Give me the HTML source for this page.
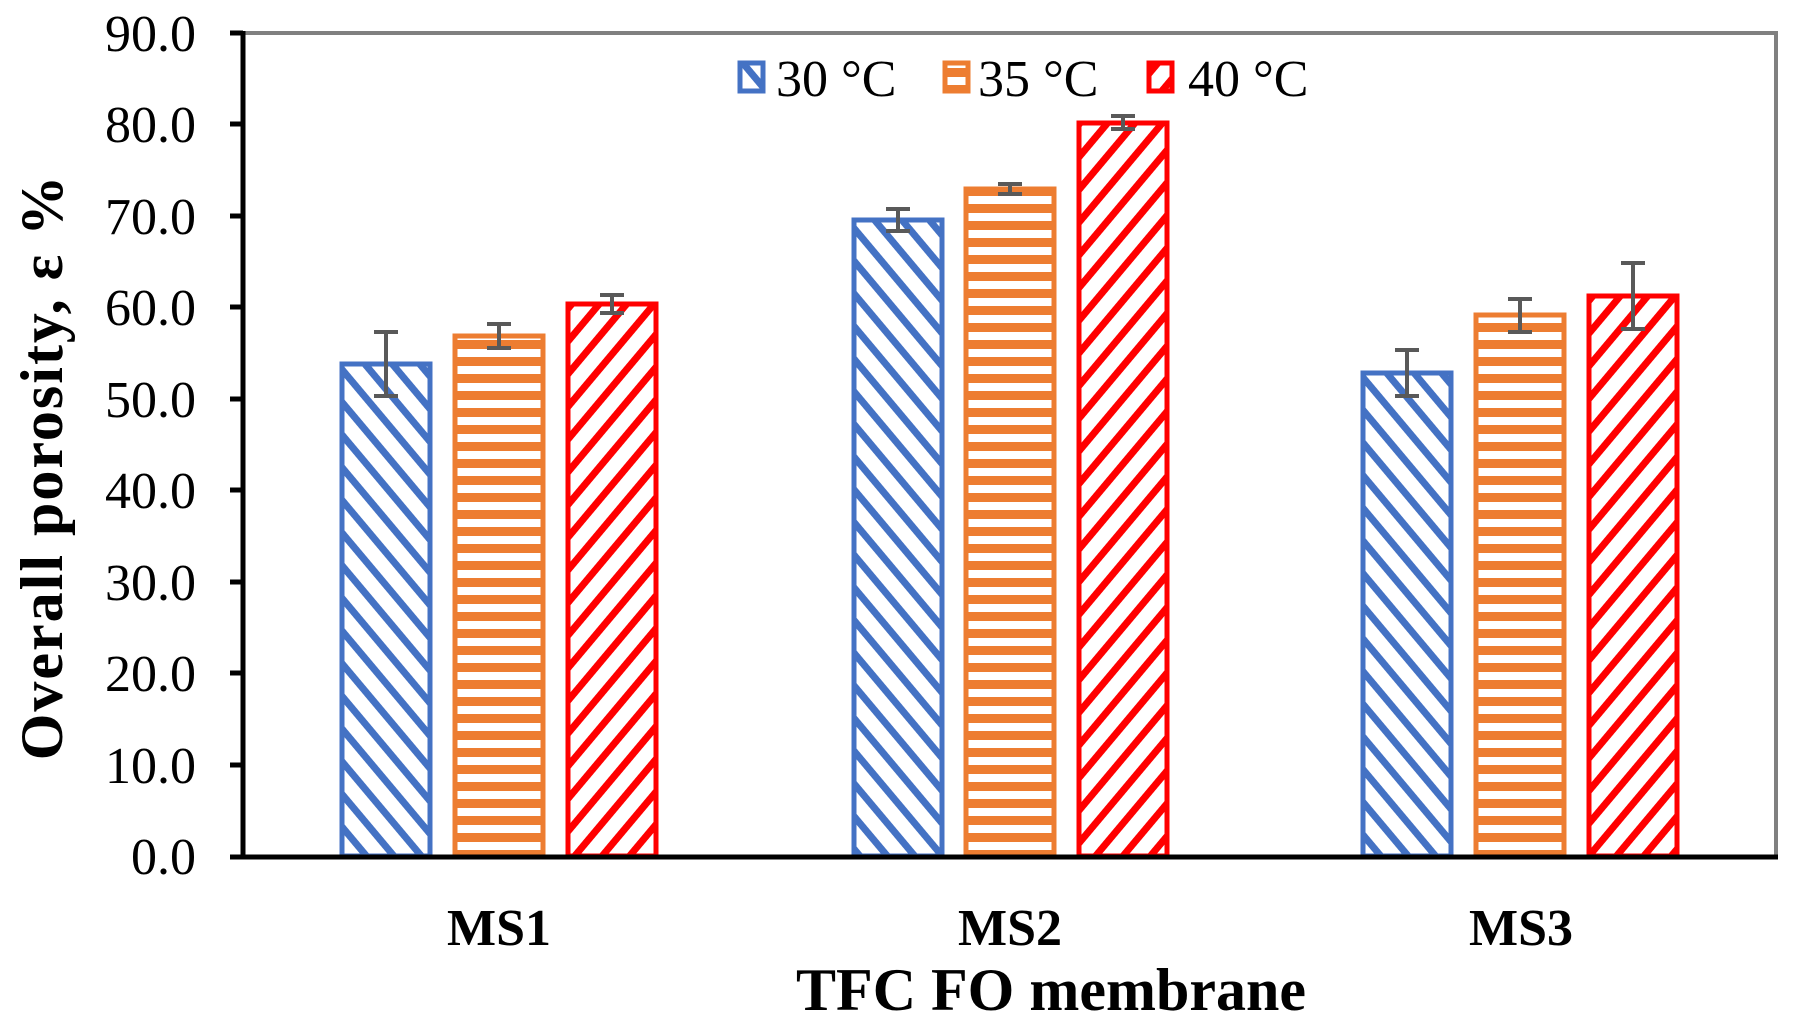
<!DOCTYPE html>
<html><head><meta charset="utf-8"><style>body{margin:0;background:#fff}svg{display:block}</style></head>
<body>
<svg width="1795" height="1031" viewBox="0 0 1795 1031" xmlns="http://www.w3.org/2000/svg" font-family="'Liberation Serif', serif">
<defs>
<pattern id="pb" patternUnits="userSpaceOnUse" width="21" height="21" patternTransform="rotate(-40)">
<rect width="21" height="21" fill="#fff"/><rect x="0" y="0" width="7" height="21" fill="#4472C4"/></pattern>
<pattern id="po" patternUnits="userSpaceOnUse" width="20" height="17">
<rect width="20" height="17" fill="#fff"/><rect x="0" y="0" width="20" height="9" fill="#ED7D31"/></pattern>
<pattern id="pr" patternUnits="userSpaceOnUse" width="21" height="21" patternTransform="rotate(40)">
<rect width="21" height="21" fill="#fff"/><rect x="0" y="0" width="7" height="21" fill="#FF0000"/></pattern>
</defs>
<rect x="243" y="33" width="1533" height="824" fill="none" stroke="#808080" stroke-width="4"/>
<g stroke-width="5">
<rect x="342" y="364" width="88" height="492" fill="url(#pb)" stroke="#4472C4"/>
<rect x="455" y="336" width="88" height="520" fill="url(#po)" stroke="#ED7D31"/>
<rect x="568" y="304" width="88" height="552" fill="url(#pr)" stroke="#FF0000"/>
<rect x="854" y="220" width="88" height="636" fill="url(#pb)" stroke="#4472C4"/>
<rect x="966" y="189" width="88" height="667" fill="url(#po)" stroke="#ED7D31"/>
<rect x="1079" y="123" width="88" height="733" fill="url(#pr)" stroke="#FF0000"/>
<rect x="1363" y="373" width="88" height="483" fill="url(#pb)" stroke="#4472C4"/>
<rect x="1476" y="315" width="88" height="541" fill="url(#po)" stroke="#ED7D31"/>
<rect x="1589" y="296" width="88" height="560" fill="url(#pr)" stroke="#FF0000"/>
</g>
<g stroke="#595959" stroke-width="4" fill="none">
<path d="M386 332V396M374 332H398M374 396H398"/>
<path d="M499 324V348M487 324H511M487 348H511"/>
<path d="M612 295V313M600 295H624M600 313H624"/>
<path d="M898 209V231M886 209H910M886 231H910"/>
<path d="M1010 184V194M998 184H1022M998 194H1022"/>
<path d="M1123 116V129M1111 116H1135M1111 129H1135"/>
<path d="M1407 350V396M1395 350H1419M1395 396H1419"/>
<path d="M1520 299V332M1508 299H1532M1508 332H1532"/>
<path d="M1633 263V329M1621 263H1645M1621 329H1645"/>
</g>
<line x1="243" y1="31" x2="243" y2="859" stroke="#000" stroke-width="5"/>
<line x1="230" y1="857" x2="1778" y2="857" stroke="#000" stroke-width="5"/>
<g stroke="#000" stroke-width="5">
<line x1="230" y1="33" x2="243" y2="33"/><line x1="230" y1="124" x2="243" y2="124"/><line x1="230" y1="216" x2="243" y2="216"/><line x1="230" y1="307" x2="243" y2="307"/><line x1="230" y1="399" x2="243" y2="399"/><line x1="230" y1="490" x2="243" y2="490"/><line x1="230" y1="582" x2="243" y2="582"/><line x1="230" y1="673" x2="243" y2="673"/><line x1="230" y1="765" x2="243" y2="765"/>
</g>
<g font-size="52" text-anchor="end" fill="#000">
<text x="196" y="51">90.0</text><text x="196" y="142">80.0</text><text x="196" y="234">70.0</text><text x="196" y="325">60.0</text><text x="196" y="417">50.0</text><text x="196" y="508">40.0</text><text x="196" y="600">30.0</text><text x="196" y="691">20.0</text><text x="196" y="783">10.0</text><text x="196" y="874">0.0</text>
</g>
<g font-size="52" font-weight="bold" text-anchor="middle">
<text x="499" y="945">MS1</text><text x="1010" y="945">MS2</text><text x="1521" y="945">MS3</text>
<text x="1051" y="1010" font-size="60">TFC FO membrane</text>
<text transform="translate(62,467) rotate(-90)" font-size="60" letter-spacing="2">Overall porosity, ε %</text>
</g>
<g font-size="52">
<rect x="740" y="63" width="23" height="28" fill="url(#pb)" stroke="#4472C4" stroke-width="5"/>
<text x="776" y="96">30 °C</text>
<rect x="945" y="63" width="23" height="28" fill="url(#po)" stroke="#ED7D31" stroke-width="5"/>
<text x="978" y="96">35 °C</text>
<rect x="1149" y="63" width="23" height="28" fill="url(#pr)" stroke="#FF0000" stroke-width="5"/>
<text x="1188" y="96">40 °C</text>
</g>
</svg>
</body></html>
